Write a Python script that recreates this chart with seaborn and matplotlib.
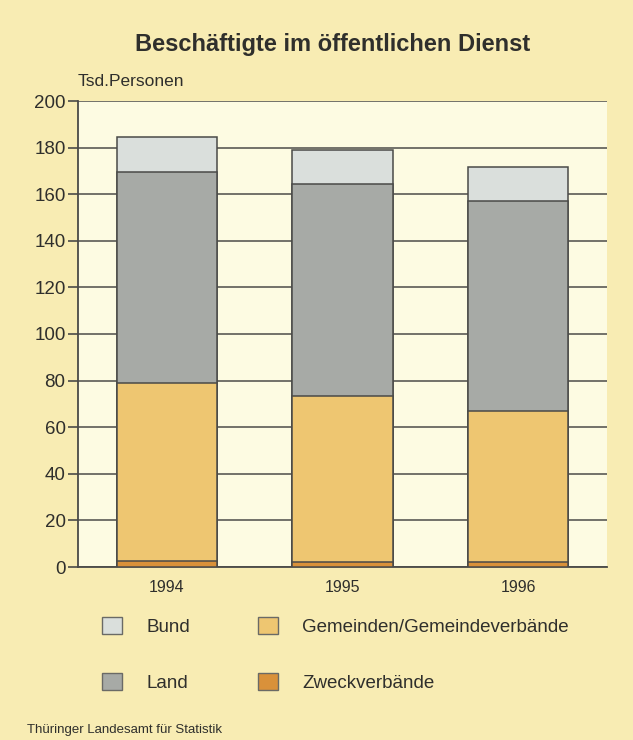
import matplotlib
matplotlib.use("Agg")
import matplotlib.pyplot as plt
import seaborn as sns
import pandas as pd
import numpy as np
from matplotlib.patches import Patch

years = ["1994", "1995", "1996"]
zweckverbaende = [2.5, 2.2, 2.2]
gemeinden = [76.3, 71.2, 64.6]
land = [90.9, 90.8, 90.1]
bund = [15.0, 14.8, 14.8]

series_names = ["Bund", "Land", "Gemeinden/Gemeindeverbände", "Zweckverbände"]
colors = {"Bund": "#DADFDC", "Land": "#A7AAA6",
          "Gemeinden/Gemeindeverbände": "#EEC671", "Zweckverbände": "#D9913A"}
txt = "#2F2F2C"

sns.set_theme(style="white")
plt.rcParams['font.family'] = ['Liberation Sans', 'DejaVu Sans']

fig = plt.figure(figsize=(6.33, 7.40), dpi=100, facecolor="#F8ECB3")
ax = fig.add_axes([78/633, 1-567/740, (607-78)/633, (567-101)/740])
ax.set_facecolor("#FDFBE2")

# cumulative stacks (drawn from total down so lower segments overlay)
z = np.array(zweckverbaende)
g = z + np.array(gemeinden)
l = g + np.array(land)
b = l + np.array(bund)
stacks = [("Bund", b), ("Land", l), ("Gemeinden/Gemeindeverbände", g), ("Zweckverbände", z)]
for name, vals in stacks:
    df = pd.DataFrame({"Jahr": years, "Wert": vals})
    sns.barplot(data=df, x="Jahr", y="Wert", color=colors[name], saturation=1,
                width=0.57, edgecolor="#4A4A48", linewidth=1.1, ax=ax, zorder=3)

ax.set_ylim(0, 200)
ax.set_xlim(-0.505, 2.505)
ax.set_yticks(range(0, 201, 20))
ax.yaxis.grid(True, color="#5A5A55", linewidth=1.2, zorder=0)
ax.set_axisbelow(True)
for s in ["top", "right"]:
    ax.spines[s].set_visible(False)
for s in ["left", "bottom"]:
    ax.spines[s].set_color("#4A4A48")
    ax.spines[s].set_linewidth(1.3)
ax.tick_params(axis="y", length=7, width=1.2, color="#4A4A48", labelsize=13.5,
               labelcolor=txt, pad=2, left=True)
ax.tick_params(axis="x", length=0, labelsize=11.5, labelcolor=txt, pad=9)
ax.set_xlabel("")
ax.set_ylabel("")

fig.text(333/633, 1-45/740, "Beschäftigte im öffentlichen Dienst", ha="center", va="center",
         fontsize=17, fontweight="bold", color=txt)
fig.text(78/633, 1-82/740, "Tsd.Personen", ha="left", va="center",
         fontsize=12.5, color=txt)
fig.text(27/633, 1-730/740, "Thüringer Landesamt für Statistik", ha="left", va="center",
         fontsize=9.5, color=txt)

handles = [Patch(facecolor=colors[n], edgecolor="#6A6A66", linewidth=1.0) for n in series_names]
fig.legend(handles, series_names, loc="upper left", bbox_to_anchor=(102/633, 1-617/740),
           ncol=2, frameon=False, fontsize=13.5, handlelength=1.05, handleheight=1.0,
           handletextpad=1.3, labelspacing=2.0, columnspacing=3.65, borderpad=0,
           borderaxespad=0, labelcolor=txt)

fig.savefig("out.png", dpi=100, facecolor=fig.get_facecolor())
